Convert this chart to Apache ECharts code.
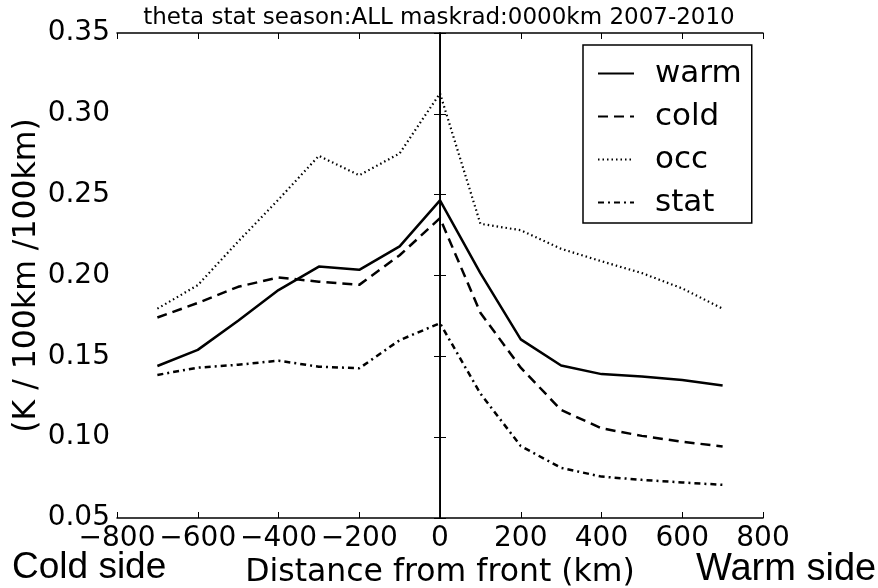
<!DOCTYPE html>
<html>
<head>
<meta charset="utf-8">
<script src="https://cdn.jsdelivr.net/npm/echarts@6/dist/echarts.min.js"></script>
<style>
  html, body { margin: 0; padding: 0; background: #fff; }
  #chart { width: 878px; height: 588px; }
</style>
</head>
<body>
<div id="chart"></div>
<script>
// Distance from the front (km), cold side negative
const distances = [-700, -600, -500, -400, -300, -200, -100, 0, 100, 200, 300, 400, 500, 600, 700];

// Gradient magnitude (K / 100km / 100km) per front type
const warm = [0.144, 0.154, 0.172, 0.191, 0.2055, 0.2035, 0.218, 0.2465, 0.2015, 0.1605, 0.1443, 0.139, 0.1375, 0.1353, 0.132];
const cold = [0.174, 0.183, 0.193, 0.1988, 0.1962, 0.1942, 0.2125, 0.2355, 0.177, 0.143, 0.1168, 0.1055, 0.1008, 0.0972, 0.0942];
const occ  = [0.1795, 0.194, 0.221, 0.247, 0.274, 0.262, 0.2755, 0.3127, 0.232, 0.228, 0.2165, 0.2088, 0.2015, 0.192, 0.1795];
const stat = [0.1385, 0.143, 0.1448, 0.1473, 0.1436, 0.1426, 0.160, 0.1705, 0.127, 0.0945, 0.081, 0.0756, 0.0736, 0.072, 0.0705];

const seriesNames = ['warm', 'cold', 'occ', 'stat'];
const titleText = 'theta stat season:ALL maskrad:0000km 2007-2010';

const pairs = arr => distances.map((d, i) => [d, arr[i]]);
const FONT = 'DejaVu Sans';
const minus = v => (v < 0 ? '\u2212' + Math.abs(v) : String(v));

const lineSeries = (name, data, type, width) => ({
  name: name,
  type: 'line',
  data: pairs(data),
  showSymbol: false,
  symbol: 'none',
  lineStyle: { color: '#000', width: width, type: type, cap: 'butt' },
  itemStyle: { color: '#000' },
  animation: false,
  z: 3
});

const chart = echarts.init(document.getElementById('chart'));
chart.setOption({
  animation: false,
  backgroundColor: '#fff',
  title: {
    text: titleText,
    left: 'center',
    top: 2,
    textStyle: { fontFamily: FONT, fontSize: 23, fontWeight: 'normal', color: '#000' }
  },
  grid: { left: 117, right: 115, top: 33, bottom: 70, containLabel: false, outerBoundsMode: 'none' },
  legend: {
    data: seriesNames,
    orient: 'vertical',
    left: 583,
    top: 45,
    itemWidth: 36,
    itemHeight: 14,
    itemGap: 12,
    padding: [13, 10, 5, 14],
    borderColor: '#000',
    borderWidth: 1.5,
    backgroundColor: '#fff',
    itemStyle: { opacity: 0 },
    textStyle: { fontFamily: FONT, fontSize: 31, color: '#000', lineHeight: 29, padding: [0, 0, 0, 16] }
  },
  xAxis: [
    {
      type: 'value', min: -800, max: 800, interval: 200,
      name: 'Distance from front (km)',
      nameLocation: 'middle', nameGap: 39, nameMoveOverlap: false,
      nameTextStyle: { fontFamily: FONT, fontSize: 31.5, color: '#000' },
      axisLine: { lineStyle: { color: '#000', width: 1.5 } },
      axisTick: { inside: true, length: 6, lineStyle: { color: '#000', width: 1 } },
      axisLabel: { fontFamily: FONT, fontSize: 28, color: '#000', margin: 7, formatter: minus },
      splitLine: { show: false }
    },
    {
      type: 'value', min: -800, max: 800, interval: 200, position: 'top',
      axisLine: { lineStyle: { color: '#000', width: 1.5 } },
      axisTick: { inside: true, length: 6, lineStyle: { color: '#000', width: 1 } },
      axisLabel: { show: false },
      splitLine: { show: false }
    }
  ],
  yAxis: [
    {
      type: 'value', min: 0.05, max: 0.35, interval: 0.05,
      name: '(K / 100km /100km)',
      nameLocation: 'middle', nameGap: 74, nameRotate: 90, nameMoveOverlap: false,
      nameTextStyle: { fontFamily: FONT, fontSize: 31.5, color: '#000' },
      axisLine: { lineStyle: { color: '#000', width: 1.5 } },
      axisTick: { inside: true, length: 6, lineStyle: { color: '#000', width: 1 } },
      axisLabel: { fontFamily: FONT, fontSize: 28, color: '#000', margin: 7, formatter: v => v.toFixed(2) },
      splitLine: { show: false }
    },
    {
      type: 'value', min: 0.05, max: 0.35, interval: 0.05, position: 'right',
      axisLine: { lineStyle: { color: '#000', width: 1.5 } },
      axisTick: { inside: true, length: 6, lineStyle: { color: '#000', width: 1 } },
      axisLabel: { show: false },
      splitLine: { show: false }
    }
  ],
  series: [
    lineSeries('warm', warm, 'solid', 2.5),
    lineSeries('cold', cold, [10, 6], 2.5),
    lineSeries('occ', occ, [1.5, 3], 2.2),
    lineSeries('stat', stat, [6, 4, 2, 4], 2.5),
    {
      // vertical reference line at the front position
      type: 'line',
      data: [],
      silent: true,
      markLine: {
        silent: true,
        symbol: 'none',
        label: { show: false },
        lineStyle: { color: '#000', width: 1, type: 'solid' },
        data: [{ xAxis: 0 }],
        animation: false
      }
    }
  ],
  graphic: [
    {
      type: 'text', x: 12, y: 568,
      style: { text: 'Cold side', fontFamily: 'Liberation Sans', fontSize: 37, fill: '#000', verticalAlign: 'middle' }
    },
    {
      type: 'text', x: 696, y: 570,
      style: { text: 'Warm side', fontFamily: 'Liberation Sans', fontSize: 38, fill: '#000', verticalAlign: 'middle' }
    }
  ]
});
</script>
</body>
</html>
